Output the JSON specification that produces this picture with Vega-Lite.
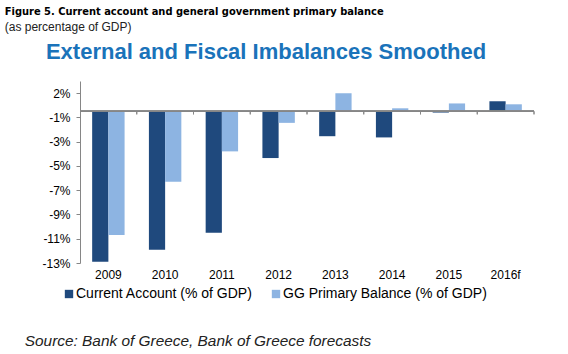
{
  "$schema": "https://vega.github.io/schema/vega-lite/v6.json",
  "padding": {"left": 4, "top": 6, "right": 5, "bottom": 4},
  "background": "white",
  "title": {
    "text": "Figure 5. Current account and general government primary balance",
    "subtitle": "(as percentage of GDP)",
    "anchor": "start",
    "frame": "bounds",
    "dx": -20,
    "font": "DejaVu Sans Condensed",
    "fontSize": 11,
    "fontWeight": "bold",
    "color": "#000000",
    "subtitleFont": "Liberation Sans",
    "subtitleFontSize": 12,
    "subtitleColor": "#222222",
    "subtitlePadding": 5,
    "offset": 8
  },
  "spacing": 33,
  "resolve": {"legend": {"color": "independent"}},
  "config": {"view": {"stroke": null}},
  "vconcat": [
    {
      "title": {
        "text": "External and Fiscal Imbalances Smoothed",
        "font": "Liberation Sans",
        "fontSize": 22,
        "fontWeight": "bold",
        "color": "#1a73ba",
        "anchor": "middle",
        "dx": -41,
        "offset": 17
      },
      "width": 454,
      "height": 182,
      "data": {
        "values": [
          {"year": "2009", "series": "Current Account (% of GDP)", "value": -12.4},
          {"year": "2009", "series": "GG Primary Balance (% of GDP)", "value": -10.2},
          {"year": "2010", "series": "Current Account (% of GDP)", "value": -11.4},
          {"year": "2010", "series": "GG Primary Balance (% of GDP)", "value": -5.8},
          {"year": "2011", "series": "Current Account (% of GDP)", "value": -10.0},
          {"year": "2011", "series": "GG Primary Balance (% of GDP)", "value": -3.3},
          {"year": "2012", "series": "Current Account (% of GDP)", "value": -3.85},
          {"year": "2012", "series": "GG Primary Balance (% of GDP)", "value": -0.95},
          {"year": "2013", "series": "Current Account (% of GDP)", "value": -2.05},
          {"year": "2013", "series": "GG Primary Balance (% of GDP)", "value": 1.5},
          {"year": "2014", "series": "Current Account (% of GDP)", "value": -2.15},
          {"year": "2014", "series": "GG Primary Balance (% of GDP)", "value": 0.25},
          {"year": "2015", "series": "Current Account (% of GDP)", "value": -0.1},
          {"year": "2015", "series": "GG Primary Balance (% of GDP)", "value": 0.65},
          {"year": "2016f", "series": "Current Account (% of GDP)", "value": 0.83},
          {"year": "2016f", "series": "GG Primary Balance (% of GDP)", "value": 0.58}
        ]
      },
      "layer": [
        {
          "mark": {"type": "bar"},
          "encoding": {
            "x": {
              "field": "year",
              "type": "ordinal",
              "sort": null,
              "scale": {"paddingInner": 0, "paddingOuter": 0},
              "axis": {
                "title": null,
                "domain": false,
                "ticks": false,
                "labelAngle": 0,
                "labelFont": "Liberation Sans",
                "labelFontSize": 12,
                "labelColor": "#000000",
                "labelPadding": 6
              }
            },
            "xOffset": {
              "field": "series",
              "sort": ["Current Account (% of GDP)", "GG Primary Balance (% of GDP)"],
              "scale": {"paddingInner": 0, "paddingOuter": 0.75}
            },
            "y": {
              "field": "value",
              "type": "quantitative",
              "scale": {"domain": [-12.5, 2.5], "nice": false, "zero": false},
              "axis": {
                "title": null,
                "values": [-12.5, -10.5, -8.5, -6.5, -4.5, -2.5, -0.5, 1.5],
                "tickCount": 20,
                "labelExpr": "(datum.value < 0 ? '-' : '') + round(abs(datum.value)) + '%'",
                "labelOverlap": false,
                "labelBound": false,
                "grid": false,
                "domainColor": "#868686",
                "tickColor": "#868686",
                "tickSize": 4,
                "labelFont": "Liberation Sans",
                "labelFontSize": 12,
                "labelColor": "#000000",
                "labelPadding": 6
              }
            },
            "color": {
              "field": "series",
              "type": "nominal",
              "scale": {
                "domain": ["Current Account (% of GDP)", "GG Primary Balance (% of GDP)"],
                "range": ["#1F497D", "#8DB4E2"]
              },
              "legend": {
                "orient": "none",
                "legendX": -18,
                "legendY": 206,
                "direction": "horizontal",
                "title": null,
                "symbolType": "square",
                "symbolSize": 70,
                "symbolStrokeWidth": 0,
                "labelFont": "Liberation Sans",
                "labelFontSize": 14,
                "labelColor": "#000000",
                "labelLimit": 400,
                "labelOffset": 0,
                "columnPadding": 16
              }
            }
          }
        },
        {
          "mark": {"type": "rule", "color": "#868686"},
          "encoding": {"y": {"datum": 0}}
        },
        {
          "mark": {"type": "rule", "color": "#868686"},
          "encoding": {
            "x": {"field": "year", "type": "ordinal", "sort": null, "bandPosition": 1},
            "y": {"datum": 0},
            "y2": {"datum": -0.25}
          }
        }
      ]
    },
    {
      "width": 236,
      "height": 14,
      "data": {"values": [{"source": "Source: Bank of Greece, Bank of Greece forecasts"}]},
      "mark": {"type": "text", "align": "center", "font": "Liberation Sans", "fontStyle": "italic", "fontSize": 15.4, "color": "#222222"},
      "encoding": {"text": {"field": "source"}}
    }
  ]
}
